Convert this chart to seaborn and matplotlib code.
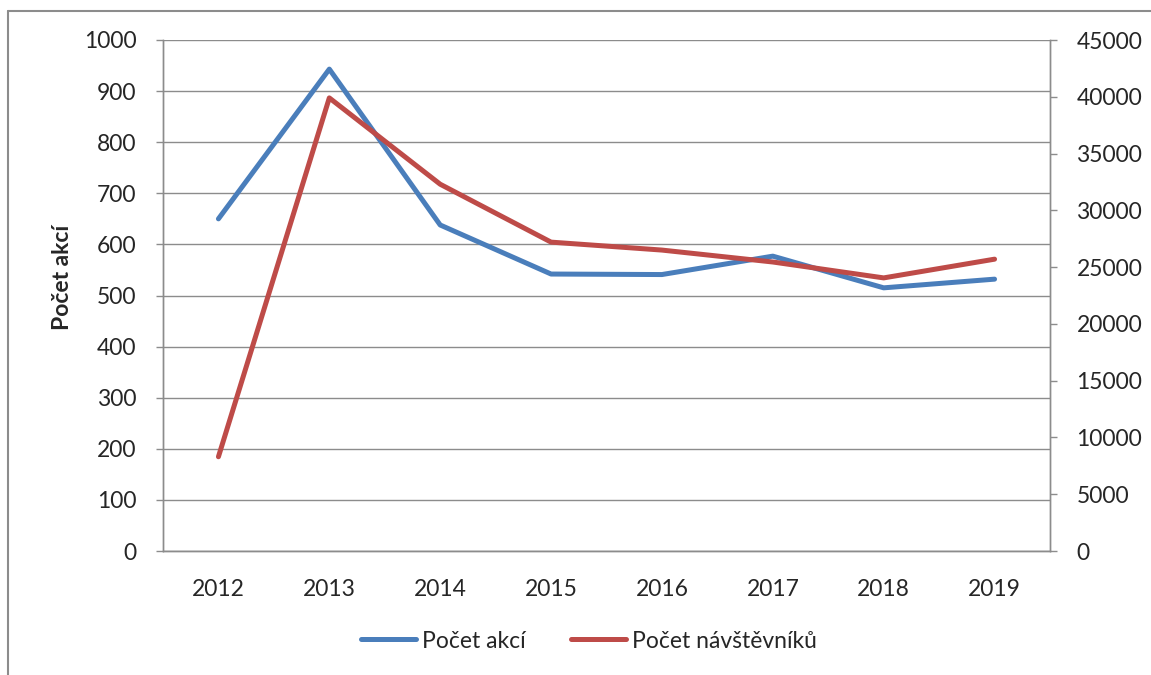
import numpy as np
import pandas as pd
import matplotlib
matplotlib.use("Agg")
import matplotlib.pyplot as plt
from matplotlib.lines import Line2D
import seaborn as sns

years = ["2012", "2013", "2014", "2015", "2016", "2017", "2018", "2019"]
pocet_akci = [650, 943, 638, 542, 541, 577, 515, 532]
pocet_navstevniku = [8300, 39900, 32300, 27200, 26500, 25450, 24050, 25700]

sns.set_style("white")
plt.rcParams['font.family'] = ['Lato', 'DejaVu Sans']

blue = "#4A7EBB"
red = "#BE4B48"
grey = "#8C8C8C"
fs = 16.5

df = pd.DataFrame({"rok": years, "akce": pocet_akci, "navstevnici": pocet_navstevniku})

fig = plt.figure(figsize=(11.51, 6.75), dpi=100)
ax = fig.add_axes([163/1151, 1-551/675, 887/1151, 511/675])
ax2 = ax.twinx()

sns.lineplot(data=df, x="rok", y="akce", ax=ax, color=blue, linewidth=3.6, sort=False)
sns.lineplot(data=df, x="rok", y="navstevnici", ax=ax2, color=red, linewidth=3.6, sort=False)

ax.set_xlim(-0.5, len(years) - 0.5)
ax.set_ylim(0, 1000)
ax.set_yticks(np.arange(0, 1001, 100))
ax2.set_ylim(0, 45000)
ax2.set_yticks(np.arange(0, 45001, 5000))

ax.yaxis.grid(True, color=grey, linewidth=1.0)
ax.set_axisbelow(True)

for a in (ax, ax2):
    a.spines['top'].set_visible(False)
    for s in ('left', 'right', 'bottom'):
        a.spines[s].set_color(grey)
        a.spines[s].set_linewidth(1.0)

ax.tick_params(axis='y', which='major', left=True, length=5, width=1.0, color=grey,
               labelsize=fs, pad=14)
ax.tick_params(axis='x', bottom=False, labelsize=fs, pad=17)
ax2.tick_params(axis='y', right=True, length=5, width=1.0, color=grey,
                labelsize=fs, pad=14)

ax.set_xlabel("")
ax.set_ylabel("Počet akcí", fontsize=fs, fontweight='bold')
ax.yaxis.set_label_coords(-0.101, 0.536)
ax2.set_ylabel("")

handles = [Line2D([], [], color=blue, linewidth=3.6, solid_capstyle='round'),
           Line2D([], [], color=red, linewidth=3.6, solid_capstyle='round')]
fig.legend(handles, ["Počet akcí", "Počet návštěvníků"], loc='center',
           bbox_to_anchor=(589/1151, 1-641/675), ncol=2, frameon=False,
           fontsize=fs, handlelength=2.4, handletextpad=0.25, columnspacing=2.0)

# outer chart frame (left and top edges visible)
fig.add_artist(Line2D([8/1151, 8/1151], [0, 1-11/675], transform=fig.transFigure,
                      color=grey, linewidth=1.5))
fig.add_artist(Line2D([8/1151, 1], [1-11/675, 1-11/675], transform=fig.transFigure,
                      color=grey, linewidth=1.5))

fig.savefig("out.png", dpi=100)
